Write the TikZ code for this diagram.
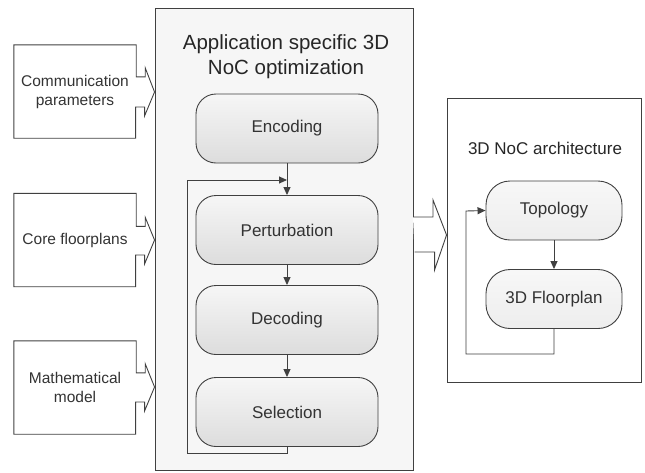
\documentclass[tikz,border=0pt]{standalone}
\usepackage{fontspec}
\setmainfont{Liberation Sans}
\usetikzlibrary{arrows.meta}

\begin{document}
\begin{tikzpicture}[x=1pt, y=-1pt,
    bline/.style={draw=black!75, line width=0.9pt},
    inbox/.style={minimum width=122pt, minimum height=93pt, align=center,
        font=\fontsize{15.5}{19}\selectfont, text=black!80},
    panel/.style={bline, fill=gray!7},
    stage/.style={bline, rounded corners=20pt, minimum width=182pt, minimum height=69pt,
        top color=gray!7, bottom color=gray!27, font=\fontsize{17}{20}\selectfont, text=black!80},
    part/.style={bline, rounded corners=24pt, minimum width=136pt, minimum height=59pt,
        top color=gray!6, bottom color=gray!14, font=\fontsize{17}{20}\selectfont, text=black!80},
    flow/.style={bline, -{Triangle[length=8pt,width=7pt]}}]
        \useasboundingbox (0,0) rectangle (645,472);

        % 中间的优化框
        \node[panel, minimum width=258pt, minimum height=462pt] (opt) at (284,239) {};
        \node[align=center, font=\fontsize{20.5}{25}\selectfont, text=black!85] (optname) at (286,57)
            {Application specific 3D\\NoC optimization};

        \node[stage] (enc) at (287,128.5) {Encoding};
        \node[stage] (pert) at (287,230) {Perturbation};
        \node[stage] (dec) at (287,320) {Decoding};
        \node[stage] (sel) at (287,412) {Selection};
        \coordinate (join) at (287,180);

        \draw[flow] (enc.south) -- (pert.north);
        \draw[flow] (pert.south) -- (dec.north);
        \draw[flow] (dec.south) -- (sel.north);
        \draw[flow] (sel.south) -- ++(0,6) -| (187,180) -- (join);

        % 右边的结构框
        \node[bline, fill=white, minimum width=194pt, minimum height=284pt] (arch) at (544,240) {};
        \node[font=\fontsize{17}{20}\selectfont, text=black!85] (archname) at (545,148) {3D NoC architecture};
        \node[part] (topo) at (554,210.5) {Topology};
        \node[part] (floor) at (554,299) {3D Floorplan};

        \draw[flow] (topo.south) -- (floor.north);
        \draw[flow] (floor.south) -- ++(0,25) -| (466,211) -- (topo.west);

        % 大箭头
        \coordinate (tail) at (413,235);
        \draw[bline, fill=white] (tail) ++(0,-18) -- ++(20,0) -- ++(0,-17) -- (arch.west |- tail)
            -- ++(-12,35) -- ++(0,-18) -- ++(-20,0);

        % 左边的输入
        \node[inbox] (comm) at (75,91.5) {Communication\\parameters};
        \node[inbox] (core) at (75,240) {Core floorplans};
        \node[inbox] (math) at (75,387.5) {Mathematical\\model};

        \draw[bline] (comm.north west) -- (comm.north east) -- ++(0,32) -- ++(9,0) -- ++(0,-9)
            -- (opt.west |- 0,92) -- ++(-10,24) -- ++(0,-9) -- ++(-9,0) |- (comm.south west) -- cycle;
        \draw[bline] (core.north west) -- (core.north east) -- ++(0,33) -- ++(9,0) -- ++(0,-9)
            -- (opt.west |- 0,240) -- ++(-10,24) -- ++(0,-9) -- ++(-9,0) |- (core.south west) -- cycle;
        \draw[bline] (math.north west) -- (math.north east) -- ++(0,32) -- ++(9,0) -- ++(0,-9)
            -- (opt.west |- 0,387) -- ++(-10,24) -- ++(0,-9) -- ++(-9,0) |- (math.south west) -- cycle;

    \end{tikzpicture}
\end{document}
